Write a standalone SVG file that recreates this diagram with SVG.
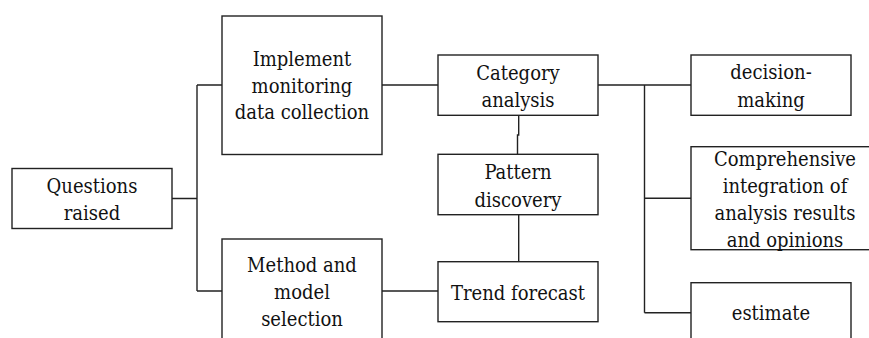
<svg xmlns="http://www.w3.org/2000/svg" width="869" height="338" viewBox="0 0 869 338">
  <style>
    .box { fill: #ffffff; stroke: #222222; stroke-width: 1.4; }
    .wire { fill: none; stroke: #222222; stroke-width: 1.4; }
    .lbl { font-family: "DejaVu Serif Condensed", "DejaVu Serif", serif; font-stretch: condensed; font-size: 20px; fill: #111111; text-anchor: middle; }
  </style>
  <rect width="869" height="338" fill="#ffffff"/>

  <g id="connectors">
    <!-- left trunk -->
    <path class="wire" d="M172 198.5 H197 M197 85 V291 M197 85 H222 M197 291 H222"/>
    <!-- middle links -->
    <path class="wire" d="M382 85 H438 M382 291 H438"/>
    <path class="wire" d="M518.7 115 V135 H517.5 V154 M518.7 215 V262"/>
    <!-- right trunk -->
    <path class="wire" d="M598 85 H691 M644.5 85 V312.7 M644.5 198.3 H691 M644.5 312.7 H691"/>
  </g>

  <g id="questions-raised">
    <rect class="box" x="12" y="168.5" width="160" height="60"/>
    <text class="lbl" x="92" y="193.3">Questions</text>
    <text class="lbl" x="92" y="220">raised</text>
  </g>

  <g id="implement-monitoring">
    <rect class="box" x="222" y="16" width="160" height="138.5"/>
    <text class="lbl" x="302" y="66">Implement</text>
    <text class="lbl" x="302" y="92.7">monitoring</text>
    <text class="lbl" x="302" y="119">data collection</text>
  </g>

  <g id="method-model-selection">
    <rect class="box" x="222" y="239" width="160" height="110"/>
    <text class="lbl" x="302" y="271.7">Method and</text>
    <text class="lbl" x="302" y="299">model</text>
    <text class="lbl" x="302" y="325.7">selection</text>
  </g>

  <g id="category-analysis">
    <rect class="box" x="438" y="55" width="160" height="60.3"/>
    <text class="lbl" x="518" y="80">Category</text>
    <text class="lbl" x="518" y="106.7">analysis</text>
  </g>

  <g id="pattern-discovery">
    <rect class="box" x="438" y="154.3" width="160" height="60.4"/>
    <text class="lbl" x="518" y="179.3">Pattern</text>
    <text class="lbl" x="518" y="206.7">discovery</text>
  </g>

  <g id="trend-forecast">
    <rect class="box" x="438" y="261.7" width="160" height="60"/>
    <text class="lbl" x="518" y="300">Trend forecast</text>
  </g>

  <g id="decision-making">
    <rect class="box" x="691" y="55" width="160" height="60.3"/>
    <text class="lbl" x="771" y="79.3">decision-</text>
    <text class="lbl" x="771" y="106.7">making</text>
  </g>

  <g id="comprehensive-integration">
    <rect class="box" x="691" y="146.7" width="190" height="103"/>
    <text class="lbl" x="785" y="165.7">Comprehensive</text>
    <text class="lbl" x="785" y="192.7">integration of</text>
    <text class="lbl" x="785" y="220">analysis results</text>
    <text class="lbl" x="785" y="246.7">and opinions</text>
  </g>

  <g id="estimate">
    <rect class="box" x="691" y="282.7" width="160" height="70"/>
    <text class="lbl" x="771" y="320">estimate</text>
  </g>
</svg>
